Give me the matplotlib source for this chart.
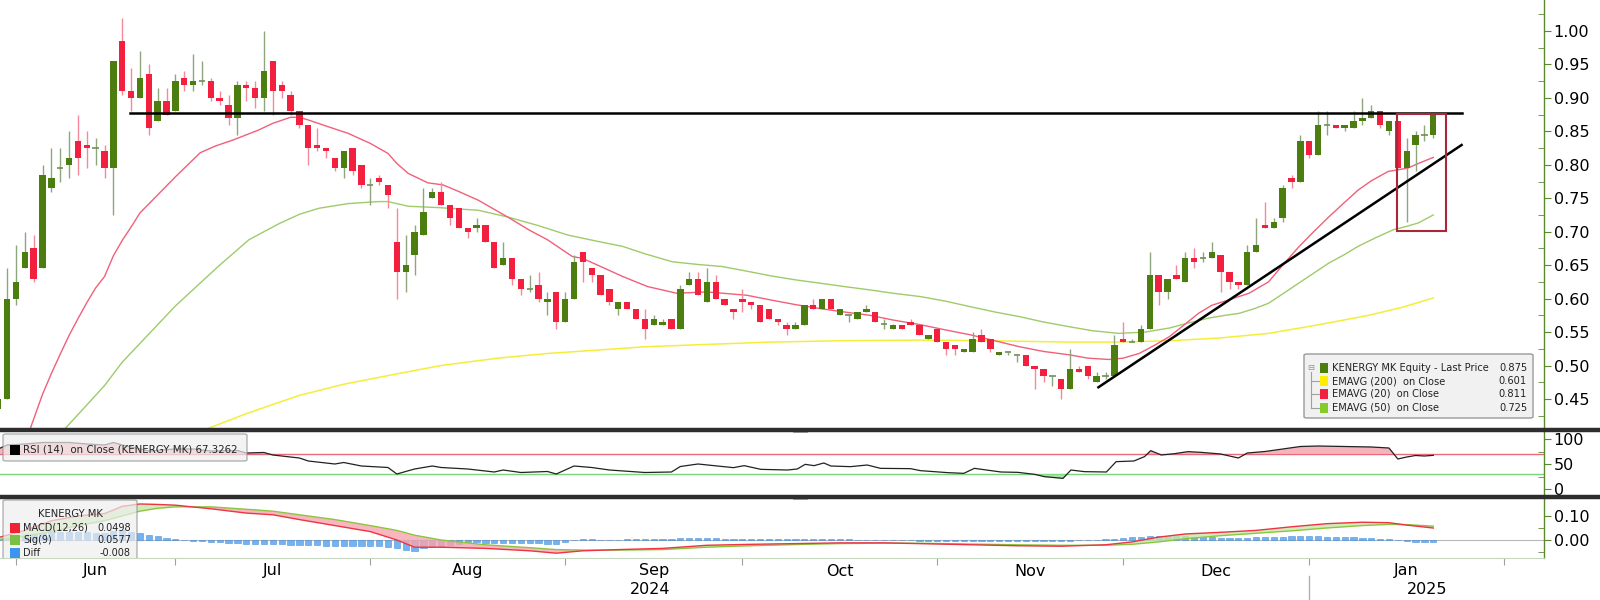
import matplotlib
matplotlib.use("Agg")
import matplotlib.pyplot as plt
from matplotlib.patches import Rectangle, FancyBboxPatch
from matplotlib.lines import Line2D
import matplotlib.transforms as mtransforms
import numpy as np

plt.rcParams['font.family'] = ['DejaVu Sans']

# ---------------- data ----------------
opens = [0.435,0.45,0.60,0.645,0.675,0.645,0.765,0.795,0.80,0.835,
         0.83,0.825,0.82,0.795,0.985,0.91,0.90,0.935,0.865,0.895,
         0.88,0.93,0.92,0.925,0.925,0.90,0.89,0.87,0.92,0.915,
         0.90,0.955,0.92,0.905,0.88,0.86,0.83,0.825,0.81,0.795,
         0.825,0.80,0.77,0.78,0.77,0.685,0.64,0.665,0.695,0.75,
         0.76,0.74,0.735,0.705,0.705,0.71,0.685,0.65,0.66,0.63,
         0.615,0.62,0.595,0.61,0.565,0.60,0.67,0.645,0.635,0.615,
         0.585,0.595,0.585,0.57,0.56,0.56,0.57,0.555,0.62,0.63,
         0.595,0.625,0.60,0.585,0.60,0.595,0.59,0.585,0.57,0.56,
         0.555,0.56,0.59,0.585,0.60,0.575,0.575,0.57,0.58,0.58,
         0.562,0.555,0.56,0.565,0.56,0.54,0.555,0.535,0.53,0.52,
         0.52,0.545,0.54,0.515,0.52,0.515,0.515,0.50,0.495,0.485,
         0.48,0.465,0.495,0.50,0.475,0.485,0.485,0.54,0.535,0.535,
         0.555,0.635,0.61,0.635,0.625,0.66,0.66,0.66,0.665,0.64,
         0.625,0.62,0.67,0.71,0.705,0.72,0.78,0.775,0.835,0.815,
         0.86,0.86,0.855,0.855,0.865,0.87,0.88,0.85,0.865,0.795,
         0.83,0.845,0.845]
highs = [0.45,0.645,0.68,0.70,0.695,0.80,0.825,0.825,0.85,0.875,
         0.85,0.84,0.83,0.955,1.02,0.945,0.97,0.95,0.915,0.915,
         0.935,0.94,0.965,0.955,0.93,0.91,0.905,0.925,0.925,0.925,
         1.00,0.955,0.925,0.91,0.88,0.86,0.855,0.825,0.81,0.82,
         0.825,0.80,0.78,0.785,0.77,0.735,0.695,0.71,0.765,0.765,
         0.775,0.74,0.735,0.705,0.72,0.71,0.685,0.685,0.66,0.63,
         0.635,0.64,0.61,0.61,0.61,0.665,0.67,0.645,0.635,0.615,
         0.595,0.595,0.585,0.585,0.575,0.57,0.57,0.62,0.64,0.64,
         0.645,0.635,0.60,0.585,0.615,0.595,0.59,0.585,0.57,0.565,
         0.565,0.59,0.60,0.60,0.60,0.585,0.575,0.58,0.59,0.58,
         0.57,0.562,0.56,0.57,0.56,0.545,0.555,0.535,0.53,0.525,
         0.55,0.555,0.54,0.52,0.52,0.515,0.515,0.50,0.495,0.485,
         0.48,0.525,0.50,0.50,0.49,0.49,0.545,0.565,0.54,0.56,
         0.67,0.635,0.63,0.65,0.67,0.675,0.67,0.685,0.665,0.64,
         0.625,0.68,0.72,0.745,0.72,0.77,0.785,0.845,0.835,0.88,
         0.88,0.86,0.86,0.88,0.90,0.89,0.88,0.865,0.865,0.84,
         0.85,0.86,0.875]
lows = [0.43,0.45,0.59,0.645,0.625,0.645,0.76,0.775,0.78,0.785,
        0.795,0.80,0.78,0.725,0.905,0.88,0.90,0.845,0.865,0.875,
        0.88,0.91,0.91,0.92,0.895,0.89,0.86,0.845,0.895,0.885,
        0.88,0.875,0.90,0.875,0.855,0.80,0.82,0.81,0.79,0.78,
        0.785,0.765,0.74,0.77,0.735,0.60,0.61,0.635,0.695,0.75,
        0.74,0.71,0.705,0.69,0.70,0.685,0.645,0.65,0.62,0.605,
        0.61,0.595,0.575,0.555,0.565,0.60,0.625,0.625,0.605,0.59,
        0.575,0.585,0.57,0.54,0.56,0.56,0.555,0.555,0.62,0.605,
        0.595,0.60,0.59,0.57,0.58,0.585,0.565,0.57,0.56,0.545,
        0.555,0.56,0.585,0.585,0.585,0.575,0.565,0.57,0.58,0.565,
        0.555,0.555,0.555,0.56,0.545,0.54,0.535,0.515,0.515,0.52,
        0.52,0.535,0.52,0.515,0.515,0.505,0.50,0.465,0.475,0.47,
        0.45,0.465,0.49,0.48,0.475,0.48,0.485,0.535,0.535,0.535,
        0.555,0.59,0.60,0.63,0.625,0.645,0.655,0.66,0.61,0.615,
        0.615,0.62,0.67,0.705,0.705,0.715,0.765,0.775,0.81,0.815,
        0.845,0.855,0.85,0.855,0.86,0.87,0.855,0.845,0.795,0.715,
        0.79,0.835,0.84]
closes = [0.45,0.60,0.625,0.67,0.63,0.785,0.78,0.795,0.81,0.81,
          0.825,0.825,0.795,0.955,0.91,0.90,0.93,0.855,0.895,0.875,
          0.925,0.92,0.925,0.925,0.90,0.895,0.87,0.92,0.915,0.90,
          0.94,0.91,0.91,0.88,0.86,0.825,0.825,0.82,0.795,0.82,
          0.79,0.77,0.77,0.775,0.755,0.64,0.65,0.70,0.73,0.76,
          0.74,0.72,0.705,0.70,0.71,0.685,0.645,0.66,0.63,0.615,
          0.615,0.60,0.60,0.565,0.60,0.655,0.655,0.635,0.605,0.595,
          0.595,0.585,0.57,0.555,0.57,0.565,0.555,0.615,0.63,0.605,
          0.625,0.60,0.59,0.58,0.595,0.59,0.565,0.57,0.565,0.555,
          0.56,0.59,0.585,0.60,0.585,0.585,0.575,0.58,0.585,0.565,
          0.562,0.56,0.555,0.56,0.545,0.545,0.535,0.525,0.525,0.525,
          0.54,0.535,0.525,0.52,0.52,0.515,0.50,0.495,0.485,0.485,
          0.465,0.495,0.49,0.485,0.485,0.485,0.53,0.535,0.535,0.555,
          0.635,0.61,0.63,0.63,0.66,0.655,0.66,0.67,0.64,0.625,
          0.62,0.67,0.68,0.705,0.715,0.765,0.775,0.835,0.815,0.86,
          0.86,0.855,0.86,0.865,0.87,0.88,0.86,0.865,0.795,0.82,
          0.845,0.845,0.875]

# EMA lines sampled from the chart (index position, value)
ema20_x = [3.6,5,6,7,8,9,10,11,12,13,14,15,16,18,20,22.8,24.5,26.5,29.4,31,33,34,35,37,39.5,42,44,45,46.3,
           48.5,50.2,52,54.2,57.5,60,62,64.8,66,68,70.5,73.3,76.6,80,84.5,87.2,90,92.8,95.5,98.4,101,104.1,
           107,109.7,112.5,115.3,118,120.9,123,125.4,127,128.8,130.5,132.2,134,135.5,137,138.9,141.2,143.4,
           145,146.8,148.5,150.2,152,153.5,155,156.9,159.1,160.5,162]
ema20_v = [0.405,0.457,0.488,0.517,0.545,0.570,0.594,0.616,0.633,0.664,0.687,0.707,0.728,0.755,0.782,0.818,
           0.828,0.837,0.852,0.862,0.871,0.871,0.867,0.858,0.847,0.832,0.817,0.802,0.787,0.773,0.770,0.760,
           0.747,0.722,0.702,0.688,0.663,0.660,0.648,0.633,0.618,0.608,0.610,0.605,0.598,0.591,0.585,0.580,
           0.575,0.568,0.561,0.553,0.546,0.537,0.528,0.521,0.516,0.511,0.509,0.511,0.518,0.530,0.543,0.562,
           0.578,0.590,0.598,0.608,0.625,0.650,0.677,0.700,0.722,0.744,0.762,0.776,0.790,0.795,0.803,0.811]
ema50_x = [7.5,10,12,14,17,20,22.7,25,28.3,31.7,34,36.2,39.5,42.9,44,46.3,49.7,54.2,57.5,61,64.3,67.5,70.5,
           73,76.1,79,81.7,84.5,87.2,90,92.8,95.5,98.4,101,104.1,107,109.7,112.5,115.3,118,120.9,123.5,126.5,
           129.5,132.2,134.5,136.7,138.5,140.1,141.8,143.4,145,146.8,148.5,150.2,152,153.5,155.5,157.5,
           159,160.3,162]
ema50_v = [0.405,0.441,0.470,0.505,0.547,0.589,0.622,0.650,0.688,0.712,0.726,0.735,0.742,0.745,0.745,0.738,
           0.736,0.732,0.722,0.709,0.695,0.686,0.678,0.667,0.655,0.651,0.648,0.641,0.634,0.628,0.623,0.618,
           0.613,0.608,0.603,0.596,0.588,0.580,0.573,0.565,0.558,0.552,0.548,0.550,0.556,0.564,0.571,0.575,
           0.578,0.585,0.593,0.607,0.623,0.638,0.653,0.666,0.678,0.691,0.703,0.708,0.713,0.725]
ema200_x = [23.5,28,33.9,39,45.2,50,56.4,62,67.6,73,78.9,87.2,95,104.1,112,120.9,126,132.2,137.8,143.4,149.1,
            154.7,158.5,162.0]
ema200_v = [0.405,0.428,0.455,0.472,0.488,0.500,0.511,0.518,0.523,0.528,0.531,0.535,0.537,0.538,0.537,0.535,
            0.535,0.537,0.541,0.548,0.561,0.575,0.587,0.601]

# RSI (14) sampled
rsi_x = [0,1,3,5,8,10,12,13,14,15,17,20,22,24,27,28,30,31,34,35,38,39,41,44,45,47,49,50,53,56,57,59,62,63,
         65,67,69,73,76,77,79,83,84.2,86.1,89.1,90.2,91.1,92.1,93.2,94,96.2,98.1,99.6,103,104.1,107.2,109,
         110.2,113.2,115.1,117,118.1,120.2,121.1,122.6,125.1,126.2,128.2,129.4,130.1,131.3,132.8,134.3,
         135.8,138,140,141,143,145,147,149,152,155,157,158,159,160,161,162]
rsi_v = [80,88,90,93,93,90,88,93,88,84,76,80,80,76,77,72,73,68,62,56,50,53,46,43,30,40,46,43,40,34,38,33,35,30,
         46,43,38,33,34,45,50,42.7,46.7,39.3,38,40,49.3,46.7,52,46,44.7,48,41.3,40.7,36.7,32.7,31.3,
         41.3,34,33.3,29.3,24.7,21.3,38,34.7,34,54.7,56,64.7,76.7,68,70.7,74.7,
         73.3,70,62,72,75,80,85,86,85,84,82,60,64,67,66,67.3]

# MACD sampled
macd_x = [0,3,6,9,12,14,16,18,20,24,28,31,34,38,42,45,47,50,55,60,63,66,70,75,80,85,90,95,100,105,110,
          115,120,125,128,131,134,138,142,146,150,154,157,159,162]
macd_v = [0.010,0.040,0.080,0.100,0.110,0.140,0.150,0.148,0.145,0.130,0.112,0.105,0.085,0.060,0.035,0.000,
          -0.030,-0.030,-0.035,-0.045,-0.055,-0.045,-0.040,-0.035,-0.022,-0.018,-0.015,-0.012,-0.012,-0.016,
          -0.020,-0.024,-0.026,-0.020,-0.008,0.012,0.025,0.032,0.040,0.055,0.068,0.074,0.072,0.062,0.0498]
sig_v = [0.000,0.015,0.035,0.060,0.080,0.100,0.120,0.132,0.138,0.138,0.128,0.120,0.105,0.085,0.060,0.040,
         0.020,0.000,-0.020,-0.032,-0.040,-0.042,-0.042,-0.040,-0.030,-0.024,-0.019,-0.015,-0.013,-0.014,
         -0.017,-0.020,-0.022,-0.022,-0.018,-0.008,0.005,0.018,0.028,0.038,0.050,0.060,0.065,0.064,0.0577]
diff_v = [0.01,0.015,0.02,0.025,0.028, 0.03,0.032,0.034,0.035,0.035,
          0.033,0.03,0.03,0.038,0.04, 0.035,0.03,0.022,0.016,0.01,
          0.005,0.0,-0.003,-0.006,-0.008, -0.01,-0.012,-0.014,-0.015,-0.015,
          -0.015,-0.016,-0.017,-0.019,-0.02, -0.021,-0.022,-0.023,-0.024,-0.025,
          -0.025,-0.025,-0.025,-0.026,-0.03, -0.035,-0.04,-0.045,-0.035,-0.03,
          -0.028,-0.02,-0.015,-0.01,-0.01, -0.012,-0.014,-0.012,-0.012,-0.013,
          -0.013,-0.014,-0.015,-0.016,-0.01, 0.0,0.004,0.004,0.002,0.001,
          0.002,0.003,0.004,0.005,0.005, 0.005,0.006,0.008,0.009,0.009,
          0.008,0.007,0.006,0.006,0.005, 0.005,0.005,0.004,0.004,0.003,
          0.004,0.004,0.004,0.003,0.003, 0.003,0.003,0.002,0.002,0.001,
          0.0,-0.001,-0.002,-0.002,-0.003, -0.003,-0.003,-0.004,-0.004,-0.004,
          -0.003,-0.003,-0.004,-0.004,-0.004, -0.004,-0.005,-0.005,-0.005,-0.005,
          -0.005,-0.003,-0.002,-0.001,0.001, 0.003,0.006,0.009,0.011,0.013,
          0.016,0.018,0.018,0.017,0.016, 0.014,0.012,0.011,0.01,0.009,
          0.009,0.01,0.011,0.012,0.013, 0.014,0.015,0.016,0.016,0.015,
          0.014,0.013,0.012,0.011,0.01, 0.008,0.006,0.004,-0.002,-0.005,
          -0.007,-0.008,-0.008]

month_labels = ['Jun','Jul','Aug','Sep','Oct','Nov','Dec','Jan']
month_start = [2,20,42,64,84,106,127,148,170]   # index of first trading day of each month
year_labels = ['2024','2025']

resist_level = 0.878
resist_span = (14.9, 165.2)
trend_pts = ((124.2, 0.4675), (165.2, 0.8296))
box_span = (157.9, 163.4, 0.701, 0.876)

legend_vals = ['0.875','0.601','0.811','0.725']
rsi_last = '67.3262'
macd_last, sig_last, diff_last = '0.0498', '0.0577', '-0.008'

# ---------------- styles ----------------
GREEN = '#4b7d0f'
RED = '#f2203e'
GREEN_W = '#8ea67e'
RED_W = '#f4899a'
AX_GREEN = '#5b8a2e'
W, H = 1600, 600
XLIM = (0.2, 174.5)

def fx(x):
    return x / W

def fy(y):
    return 1 - y / H

fig = plt.figure(figsize=(16, 6), dpi=100)
fig.patch.set_facecolor('white')

ax = fig.add_axes([0, fy(430), 1544 / W, 430 / H])
ax_r = fig.add_axes([0, fy(497), 1544 / W, 67 / H])
ax_m = fig.add_axes([0, fy(558), 1544 / W, 61 / H])

for a in (ax, ax_r, ax_m):
    a.set_xlim(*XLIM)
    for s in ('left', 'top', 'bottom'):
        a.spines[s].set_visible(False)
    a.spines['right'].set_color(AX_GREEN)
    a.spines['right'].set_linewidth(1.0)
    a.yaxis.tick_right()
    a.tick_params(axis='y', which='major', direction='out', length=5, color=AX_GREEN,
                  labelsize=11.5, pad=2, labelcolor='black')
    a.tick_params(axis='y', which='minor', direction='in', length=4, color=AX_GREEN)
    a.set_xticks([])
    a.set_facecolor('white')

# ---------------- candles ----------------
n = len(closes)
idx = np.arange(n)
o = np.array(opens); c = np.array(closes); hi = np.array(highs); lo = np.array(lows)
up = c >= o
bw = 0.72
ax.vlines(idx[up], lo[up], hi[up], color=GREEN_W, lw=1.0, zorder=2)
ax.vlines(idx[~up], lo[~up], hi[~up], color=RED_W, lw=1.0, zorder=2)
body_lo = np.minimum(o, c)
body_h = np.abs(c - o)
doji = body_h < 1e-6
ax.bar(idx[up & ~doji], body_h[up & ~doji], bottom=body_lo[up & ~doji], width=bw, color=GREEN, lw=0, zorder=3)
ax.bar(idx[~up & ~doji], body_h[~up & ~doji], bottom=body_lo[~up & ~doji], width=bw, color=RED, lw=0, zorder=3)
ax.hlines(c[doji], idx[doji] - bw / 2, idx[doji] + bw / 2, color='#6f8f5a', lw=1.2, zorder=3)

# EMAs
ax.plot(ema200_x, ema200_v, color='#f4ee3a', lw=1.1, zorder=1)
ax.plot(ema50_x, ema50_v, color='#9fcb6a', lw=1.0, zorder=1)
ax.plot(ema20_x, ema20_v, color='#f0607a', lw=1.0, zorder=1)

# annotations
ax.plot(resist_span, [resist_level, resist_level], color='black', lw=1.8, zorder=4)
ax.plot([trend_pts[0][0], trend_pts[1][0]], [trend_pts[0][1], trend_pts[1][1]], color='black', lw=1.8, zorder=4)
x0, x1, y0, y1 = box_span
ax.add_patch(Rectangle((x0, y0), x1 - x0, y1 - y0, fill=False, ec='#a8283a', lw=1.5, zorder=5))

ax.set_ylim(0.4036, 1.0463)
ax.set_yticks(np.arange(0.45, 1.001, 0.05))
ax.set_yticklabels(['%.2f' % v for v in np.arange(0.45, 1.001, 0.05)])
ax.set_yticks(np.arange(0.425, 1.03, 0.05), minor=True)

# ---------------- RSI ----------------
rx = np.array(rsi_x, dtype=float); rv = np.array(rsi_v, dtype=float)
ax_r.set_ylim(-16, 118)
ax_r.axhline(70, color='#e86a7a', lw=1.0, zorder=1)
ax_r.axhline(30, color='#7ad67a', lw=1.0, zorder=1)
ax_r.fill_between(rx, rv, 70, where=rv > 70, interpolate=True, color='#f6a0aa', alpha=0.8, lw=0)
ax_r.fill_between(rx, rv, 30, where=rv < 30, interpolate=True, color='#8de08d', alpha=0.8, lw=0)
ax_r.plot(rx, rv, color='#222222', lw=0.9, zorder=3)
ax_r.set_yticks([0, 50, 100])
ax_r.set_yticklabels(['0', '50', '100'])
ax_r.set_yticks([25, 75], minor=True)

# ---------------- MACD ----------------
mx = np.array(macd_x, dtype=float); mv = np.array(macd_v); sv = np.array(sig_v)
ax_m.set_ylim(-0.075, 0.179)
ax_m.axhline(0, color='#b8b8b8', lw=0.8, zorder=1)
ax_m.bar(idx, diff_v, width=0.7, color='#5aa6f0', ec='#3a86d8', lw=0.4, alpha=0.85, zorder=2)
ax_m.fill_between(mx, mv, sv, where=mv < sv, interpolate=True, color='#f7a5ae', alpha=0.8, lw=0, zorder=2)
ax_m.fill_between(mx, mv, sv, where=mv >= sv, interpolate=True, color='#c9e6a8', alpha=0.8, lw=0, zorder=2)
ax_m.plot(mx, sv, color='#8cc63f', lw=1.0, zorder=3)
ax_m.plot(mx, mv, color='#ee3344', lw=1.0, zorder=3)
ax_m.set_yticks([0.0, 0.10])
ax_m.set_yticklabels(['0.00', '0.10'])
ax_m.set_yticks([-0.05, 0.05], minor=True)
ax_m.spines['bottom'].set_visible(True)
ax_m.spines['bottom'].set_color('#c8d8c0')
ax_m.set_xticks(month_start)
ax_m.set_xticklabels([])
ax_m.tick_params(axis='x', direction='out', length=5, color='#a0a0a0')

# month & year labels
trans = mtransforms.blended_transform_factory(ax_m.transData, fig.transFigure)
for k, lab in enumerate(month_labels):
    xc = (month_start[k] + month_start[k + 1]) / 2
    fig.text(xc, fy(571), lab, transform=trans, fontsize=11.5, ha='center', va='center')
yr_centers = [(XLIM[0] + month_start[7] - 1) / 2, (month_start[7] + XLIM[1]) / 2]
for xc, lab in zip(yr_centers, year_labels):
    fig.text(xc, fy(590), lab, transform=trans, fontsize=11.5, ha='center', va='center')
fig.add_artist(Line2D([month_start[7], month_start[7]], [fy(576), fy(600)], transform=trans,
                      color='#b0b0b0', lw=1.0))

# separators
for ys in (430, 497):
    fig.add_artist(Line2D([0, 1], [fy(ys), fy(ys)], transform=fig.transFigure, color='#2e2e2e', lw=3.2))
    fig.add_artist(Rectangle((fx(793), fy(ys) - 0.004), fx(14), 0.008, transform=fig.transFigure,
                             fc='#c8c8c8', ec='#909090', lw=0.5))

# ---------------- main legend ----------------
lb = FancyBboxPatch((fx(1304), fy(418)), fx(229), 64 / H, boxstyle='round,pad=0,rounding_size=0.002',
                    transform=fig.transFigure, fc='#f1f1f1', ec='#9a9a9a', lw=1.0, zorder=10)
fig.add_artist(lb)
leg_names = ['KENERGY MK Equity - Last Price', 'EMAVG (200)  on Close', 'EMAVG (20)  on Close', 'EMAVG (50)  on Close']
leg_cols = [GREEN, '#ffee00', '#f2203e', '#84cc2a']
rows = [368, 381, 394, 408]
fig.add_artist(Line2D([fx(1311), fx(1311)], [fy(372), fy(408)], transform=fig.transFigure, color='#a0a0a0', lw=0.8, zorder=11))
fig.text(fx(1311), fy(367), '⊟', fontsize=6, color='#909090', ha='center', va='center', zorder=11)
for r, name, col, val in zip(rows, leg_names, leg_cols, legend_vals):
    if r != rows[0]:
        fig.add_artist(Line2D([fx(1311), fx(1319)], [fy(r), fy(r)], transform=fig.transFigure, color='#a0a0a0', lw=0.8, zorder=11))
    fig.add_artist(Rectangle((fx(1320), fy(r + 5)), fx(8), 10 / H, transform=fig.transFigure, fc=col, ec='none', zorder=11))
    fig.text(fx(1332), fy(r), name, fontsize=7.1, color='#222222', ha='left', va='center', zorder=12)
    fig.text(fx(1527), fy(r), val, fontsize=7.1, color='#222222', ha='right', va='center', zorder=12)

# ---------------- RSI legend ----------------
rb = FancyBboxPatch((fx(3), fy(461)), fx(244), 27 / H, boxstyle='round,pad=0,rounding_size=0.002',
                    transform=fig.transFigure, fc='#eeeeee', ec='#8a8a8a', lw=0.9, alpha=0.7, zorder=10)
fig.add_artist(rb)
fig.add_artist(Rectangle((fx(10), fy(455)), fx(10), 10 / H, transform=fig.transFigure, fc='black', ec='none', zorder=11))
fig.text(fx(23), fy(450), 'RSI (14)  on Close (KENERGY MK) ' + rsi_last, fontsize=7.4, color='#222222',
         ha='left', va='center', zorder=12)

# ---------------- MACD legend (clipped by the MACD panel) ----------------
tf = fig.transFigure
mb = FancyBboxPatch((fx(3), fy(562)), fx(134), 62 / H, boxstyle='round,pad=0,rounding_size=0.002',
                    transform=tf, fc='#eeeeee', ec='#8a8a8a', lw=0.9, alpha=0.7, zorder=10)
ax_m.add_artist(mb)
mb.set_transform(tf)
ax_m.text(fx(70), fy(514), 'KENERGY MK', transform=tf, fontsize=7.2, color='#222222', ha='center',
          va='center', zorder=12, clip_on=True)
mrows = [(528, 'MACD(12,26)', macd_last, '#ee2233'), (540, 'Sig(9)', sig_last, '#7bc043'),
         (553, 'Diff', diff_last, '#3b95ee')]
for r, name, val, col in mrows:
    sq = Rectangle((fx(10), fy(r + 5)), fx(10), 10 / H, transform=tf, fc=col, ec='none', zorder=11)
    ax_m.add_artist(sq)
    sq.set_transform(tf)
    ax_m.text(fx(23), fy(r), name, transform=tf, fontsize=7.0, color='#222222', ha='left', va='center',
              zorder=12, clip_on=True)
    ax_m.text(fx(131), fy(r), val, transform=tf, fontsize=7.0, color='#222222', ha='right', va='center',
              zorder=12, clip_on=True)

fig.savefig('out.png', dpi=100, facecolor='white')
